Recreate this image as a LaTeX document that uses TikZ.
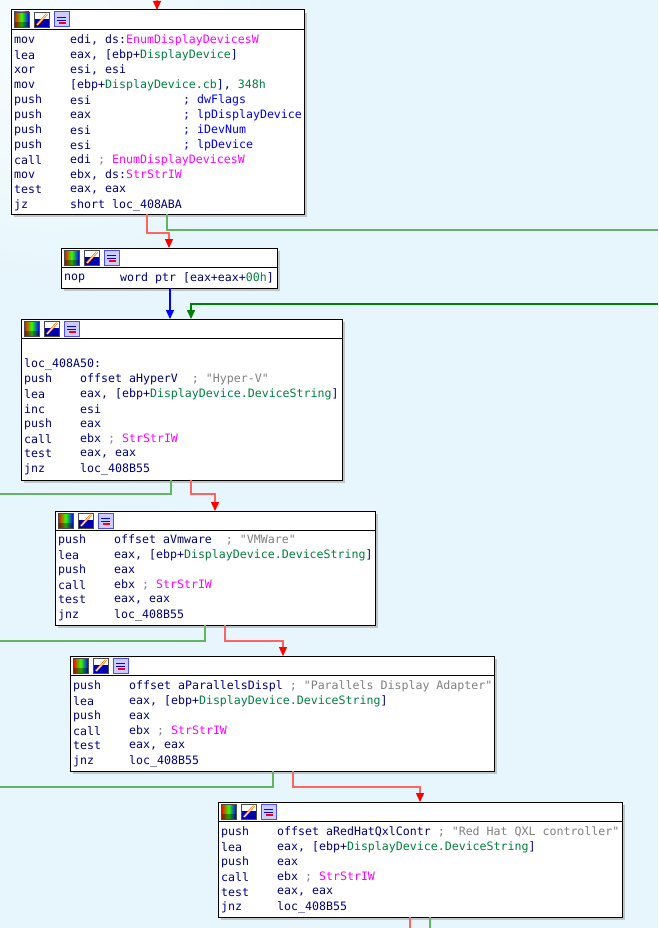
\documentclass[tikz,border=0pt]{standalone}
\usepackage{fontspec}
\usetikzlibrary{arrows.meta,positioning,shadows}
\newfontfamily\asmfont{DejaVu Sans Mono}[Scale=1.0]
\definecolor{asm}{HTML}{000080}
\definecolor{nmc}{HTML}{008040}
\definecolor{fnc}{HTML}{FF00FF}
\definecolor{cmc}{HTML}{0000FF}
\definecolor{gyc}{HTML}{808080}
\definecolor{bgc}{HTML}{E6F6FC}
\definecolor{lred}{HTML}{FF6464}
\definecolor{lgrn}{HTML}{64B464}
\definecolor{dgrn}{HTML}{008000}
\newcommand\nm[1]{\textcolor{nmc}{#1}}
\newcommand\fn[1]{\textcolor{fnc}{#1}}
\newcommand\cm[1]{\textcolor{cmc}{#1}}
\newcommand\gy[1]{\textcolor{gyc}{#1}}
\tikzset{
  blk/.style={draw,fill=white,line width=1pt,inner sep=0pt,outer sep=0pt,anchor=north west,
    drop shadow={shadow xshift=3pt,shadow yshift=-3pt,fill=gray!70,opacity=0.6}},
  mn/.style={anchor=west,inner sep=0pt,text=asm,font=\asmfont\fontsize{11.6}{13}\selectfont},
  tip/.style={-{Triangle[width=8pt,length=9pt,fill=#1,color=#1]}},
  red edge/.style={lred,line width=1.4pt,tip=red},
  green edge/.style={lgrn,line width=1.4pt},
  dgreen edge/.style={dgrn,line width=1.6pt,tip=dgrn},
  blue edge/.style={blue,line width=1.4pt,tip=blue}
}
% x y0 step {mnem/operand,...}
\newcommand\asmlines[4]{%
  \foreach \m/\o [count=\i from 0] in {#4}{%
    \node[mn] at (#1,#2+\i*#3) {\m};
    \node[mn] at (#1+56,#2+\i*#3) {\o};}}
% header with icons
\newcommand\hdr[1]{%
  \begin{scope}[shift={(#1.north west)}]
    \draw[line width=0.8pt] (0,19) -- (#1.east |- 0,19);
    \shade[left color=red,right color=blue,middle color=green!80!yellow] (3,2) rectangle (18,17);
    \fill[black,opacity=0.35] (3,12) rectangle (18,17);
    \draw[gray!60!black,line width=0.5pt] (3,2) rectangle (18,17);
    \fill[white] (23,2) rectangle (38,17);
    \fill[blue!70!black] (23,9) rectangle (38,17);
    \draw[orange,line width=2.2pt] (26,15) -- (36,4);
    \draw[white,line width=0.6pt] (26,15) -- (36,4);
    \draw[gray!60!black,line width=0.5pt] (23,2) rectangle (38,17);
    \fill[blue!20] (43,2) rectangle (58,17);
    \draw[blue!70,line width=1pt] (43,2) rectangle (58,17);
    \draw[blue,line width=0.8pt] (46,7) -- (55,7) (46,10) -- (55,10);
    \draw[red,line width=1.2pt] (48,13) -- (55,13);
  \end{scope}}
\begin{document}
\begin{tikzpicture}[x=1pt,y=-1pt]
\useasboundingbox (0,0) rectangle (658,928);
\fill[bgc] (0,0) rectangle (658,928);
\shade[inner color=white,outer color=bgc,opacity=0.8] (-200,-200) rectangle (300,300);

% blocks
\node[blk,minimum width=293pt,minimum height=204pt] (b1) at (11,10) {};
\node[blk,minimum width=216pt,minimum height=40pt] (b2) at (61,248) {};
\node[blk,minimum width=321pt,minimum height=161pt] (b3) at (21,319) {};
\node[blk,minimum width=320pt,minimum height=114pt] (b4) at (55,511) {};
\node[blk,minimum width=424pt,minimum height=115pt] (b5) at (70,656) {};
\node[blk,minimum width=404pt,minimum height=115pt] (b6) at (218,802) {};
\foreach \b in {b1,b2,b3,b4,b5,b6}{\hdr{\b}}

\asmlines{14}{40}{15}{mov/{edi, ds:\fn{EnumDisplayDevicesW}},
  lea/{eax, [ebp+\nm{DisplayDevice}]},
  xor/{esi, esi},
  mov/{[ebp+\nm{DisplayDevice.cb}], \nm{348h}},
  push/esi, push/eax, push/esi, push/esi,
  call/{edi \gy{;} \fn{EnumDisplayDevicesW}},
  mov/{ebx, ds:\fn{StrStrIW}},
  test/{eax, eax},
  jz/{short loc\_408ABA}}
\foreach \c [count=\i from 4] in {dwFlags,lpDisplayDevice,iDevNum,lpDevice}
  \node[mn,text=cmc] at (183,40+\i*15) {; \c};

\asmlines{64}{278}{15}{nop/{word ptr [eax+eax+\nm{00h}]}}

\node[mn] at (24,364) {loc\_408A50:};
\asmlines{24}{379}{15}{push/{offset aHyperV~~\gy{; "Hyper-V"}},
  lea/{eax, [ebp+\nm{DisplayDevice.DeviceString}]},
  inc/esi, push/eax,
  call/{ebx \gy{;} \fn{StrStrIW}},
  test/{eax, eax}, jnz/{loc\_408B55}}

\asmlines{58}{540}{15}{push/{offset aVmware~~\gy{; "VMWare"}},
  lea/{eax, [ebp+\nm{DisplayDevice.DeviceString}]},
  push/eax,
  call/{ebx \gy{;} \fn{StrStrIW}},
  test/{eax, eax}, jnz/{loc\_408B55}}

\asmlines{73}{686}{15}{push/{offset aParallelsDispl \gy{; "Parallels Display Adapter"}},
  lea/{eax, [ebp+\nm{DisplayDevice.DeviceString}]},
  push/eax,
  call/{ebx \gy{;} \fn{StrStrIW}},
  test/{eax, eax}, jnz/{loc\_408B55}}

\asmlines{221}{832}{15}{push/{offset aRedHatQxlContr \gy{; "Red Hat QXL controller"}},
  lea/{eax, [ebp+\nm{DisplayDevice.DeviceString}]},
  push/eax,
  call/{ebx \gy{;} \fn{StrStrIW}},
  test/{eax, eax}, jnz/{loc\_408B55}}

% free ends
\coordinate (top) at (157,0);
\coordinate (g1) at (658,230);
\coordinate (g2) at (658,304);
\coordinate (g3) at (0,494);
\coordinate (g4) at (0,641);
\coordinate (g5) at (0,787);
\coordinate (r6) at (410,928);
\coordinate (g6) at (430,928);

% edges
\draw[red edge] (top) -- (top |- b1.north);
\draw[green edge] (b1.south -| 167,0) |- (g1);
\draw[red edge] (b1.south -| 147,0) -- ++(0,19) -| (b2.north -| 169,0);
\draw[blue edge] (b2.south -| 170,0) -- (b3.north -| 170,0);
\draw[dgreen edge] (g2) -| (b3.north -| 191,0);
\draw[green edge] (b3.south -| 171,0) |- (g3);
\draw[red edge] (b3.south -| 191,0) -- ++(0,14) -| (b4.north -| 215,0);
\draw[green edge] (b4.south -| 205,0) |- (g4);
\draw[red edge] (b4.south -| 225,0) -- ++(0,16) -| (b5.north -| 283,0);
\draw[green edge] (b5.south -| 273,0) |- (g5);
\draw[red edge] (b5.south -| 293,0) -- ++(0,16) -| (b6.north -| 420,0);
\draw[lred,line width=1.4pt] (b6.south -| 410,0) -- (r6);
\draw[green edge] (b6.south -| 430,0) -- (g6);
\end{tikzpicture}
\end{document}
